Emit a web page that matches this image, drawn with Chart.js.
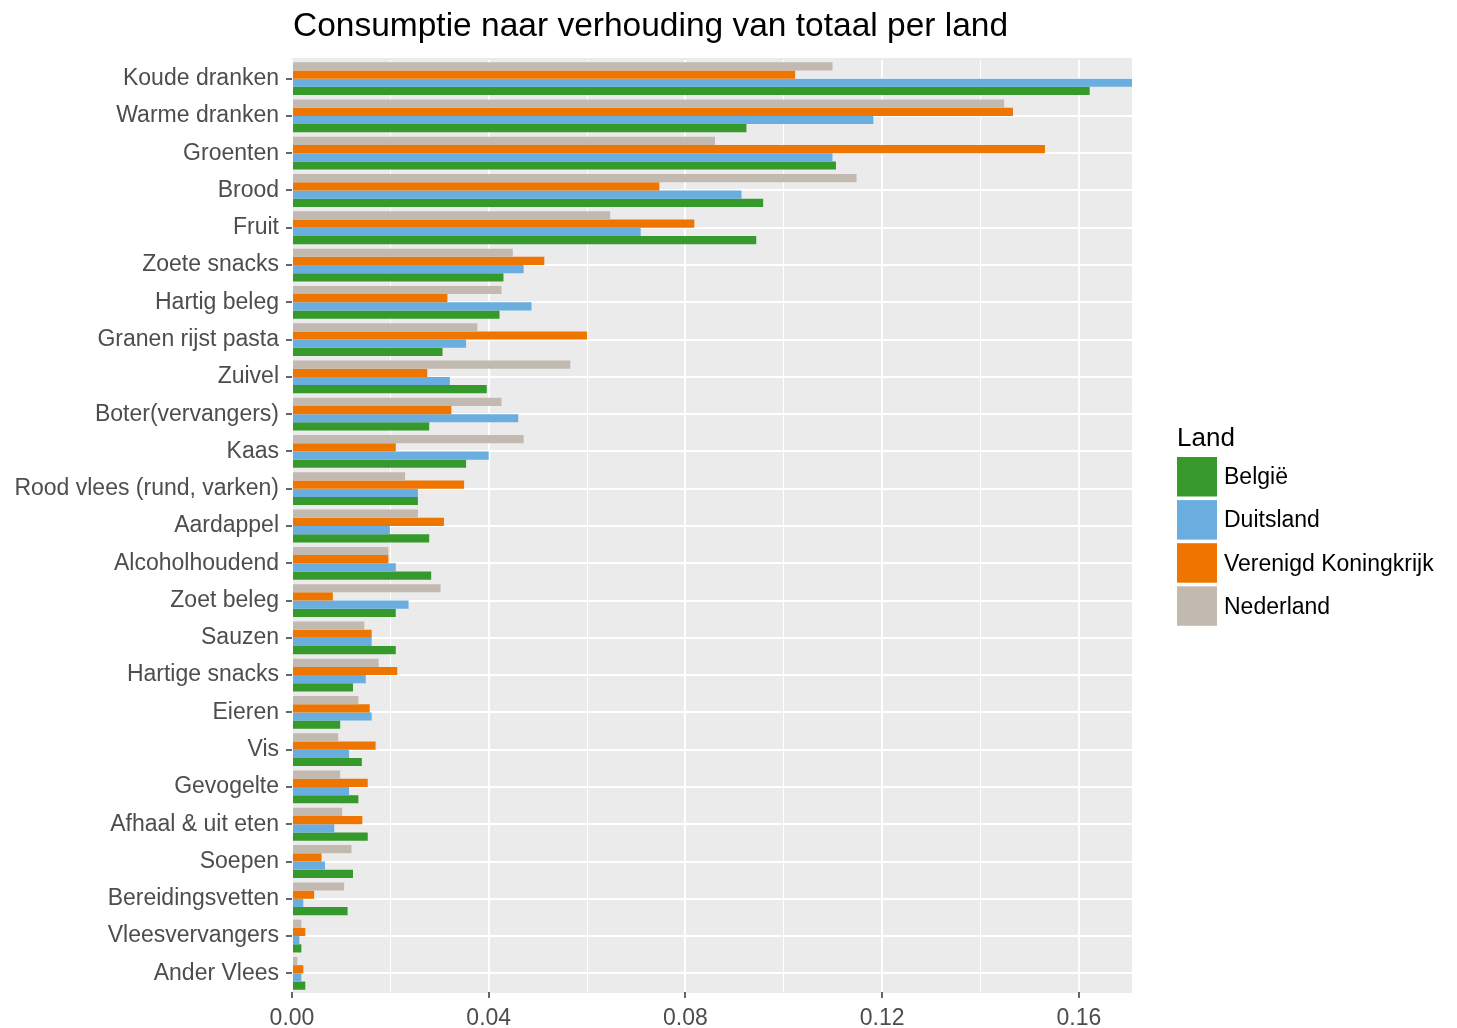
<!DOCTYPE html>
<html>
<head>
<meta charset="utf-8">
<script src="https://cdn.jsdelivr.net/npm/chart.js@4.4.0/dist/chart.umd.min.js"></script>
<style>
  html, body { margin: 0; padding: 0; background: #ffffff; }
  canvas { display: block; }
</style>
</head>
<body>
<canvas id="chart" width="1457" height="1028"></canvas>
<script>
// categories, top to bottom
const categories = [
    'Koude dranken', 'Warme dranken', 'Groenten', 'Brood', 'Fruit',
    'Zoete snacks', 'Hartig beleg', 'Granen rijst pasta', 'Zuivel', 'Boter(vervangers)',
    'Kaas', 'Rood vlees (rund, varken)', 'Aardappel', 'Alcoholhoudend', 'Zoet beleg',
    'Sauzen', 'Hartige snacks', 'Eieren', 'Vis', 'Gevogelte',
    'Afhaal & uit eten', 'Soepen', 'Bereidingsvetten', 'Vleesvervangers', 'Ander Vlees'
];

const nederland = [0.1099, 0.1448, 0.0860, 0.1148, 0.0647, 0.0449, 0.0426, 0.0377, 0.0566, 0.0426,
    0.0471, 0.0230, 0.0256, 0.0196, 0.0302, 0.0147, 0.0176, 0.0135, 0.0094, 0.0098,
    0.0102, 0.0121, 0.0106, 0.0019, 0.0011];
const verenigdKoninkrijk = [0.1023, 0.1466, 0.1531, 0.0747, 0.0818, 0.0513, 0.0316, 0.0600, 0.0275, 0.0324,
    0.0211, 0.0350, 0.0309, 0.0196, 0.0083, 0.0162, 0.0214, 0.0158, 0.0170, 0.0154,
    0.0143, 0.0060, 0.0045, 0.0027, 0.0023];
const duitsland = [0.1708, 0.1182, 0.1099, 0.0914, 0.0709, 0.0471, 0.0487, 0.0354, 0.0321, 0.0460,
    0.0400, 0.0256, 0.0199, 0.0211, 0.0237, 0.0162, 0.0150, 0.0162, 0.0116, 0.0116,
    0.0086, 0.0067, 0.0023, 0.0015, 0.0019];
const belgie = [0.1622, 0.0924, 0.1106, 0.0958, 0.0944, 0.0430, 0.0422, 0.0306, 0.0396, 0.0279,
    0.0354, 0.0256, 0.0279, 0.0283, 0.0211, 0.0211, 0.0124, 0.0098, 0.0142, 0.0135,
    0.0154, 0.0124, 0.0113, 0.0019, 0.0027];

const xMax = 0.1708;
const xStep = 0.02;   // minor grid step, labels every second one

const colors = {
    belgie: '#359A2B',
    duitsland: '#69AEDF',
    vk: '#EE7600',
    nederland: '#C2BAB1'
};

const fontFamily = "'Liberation Sans', Arial, sans-serif";
const axisText = '#4d4d4d';

// legend entries in ggplot order
const legendItems = [
    { label: 'België', color: colors.belgie },
    { label: 'Duitsland', color: colors.duitsland },
    { label: 'Verenigd Koningkrijk', color: colors.vk },
    { label: 'Nederland', color: colors.nederland }
];

function isMajor(value) {
    return Math.round(value / xStep) % 2 === 0;
}

/* ─── Panel background + title + legend ─────── */
const ggPanel = {
    id: 'ggPanel',
    beforeDraw(chart) {
        const { ctx, chartArea } = chart;
        ctx.save();
        ctx.fillStyle = '#ffffff';
        ctx.fillRect(0, 0, chart.width, chart.height);
        ctx.fillStyle = '#EBEBEB';
        ctx.fillRect(chartArea.left, chartArea.top - 2, chartArea.right - chartArea.left, chartArea.bottom - chartArea.top + 3);
        ctx.restore();
    },
    afterDraw(chart) {
        const { ctx, chartArea } = chart;
        ctx.save();
        // title
        ctx.fillStyle = '#000000';
        ctx.font = '33.5px ' + fontFamily;
        ctx.textAlign = 'left';
        ctx.textBaseline = 'alphabetic';
        ctx.fillText('Consumptie naar verhouding van totaal per land', chartArea.left + 1, 36);

        // legend
        const lx = chartArea.right + 45;
        ctx.font = '26px ' + fontFamily;
        ctx.fillText('Land', lx, 446);
        ctx.font = '23px ' + fontFamily;
        ctx.textBaseline = 'middle';
        legendItems.forEach((item, i) => {
            const top = 457 + i * 43.1;
            ctx.fillStyle = item.color;
            ctx.fillRect(lx, top, 40, 39.5);
            ctx.fillStyle = '#000000';
            ctx.fillText(item.label, lx + 47, top + 21);
        });
        ctx.restore();
    }
};

const ctx = document.getElementById('chart');
new Chart(ctx.getContext('2d'), {
    type: 'bar',
    data: {
        labels: categories,
        datasets: [
            { label: 'Nederland', data: nederland, backgroundColor: colors.nederland },
            { label: 'Verenigd Koningkrijk', data: verenigdKoninkrijk, backgroundColor: colors.vk },
            { label: 'Duitsland', data: duitsland, backgroundColor: colors.duitsland },
            { label: 'België', data: belgie, backgroundColor: colors.belgie }
        ]
    },
    options: {
        indexAxis: 'y',
        responsive: false,
        devicePixelRatio: 1,
        animation: false,
        layout: { padding: { top: 60, right: 325, left: 0, bottom: 0 } },
        datasets: {
            bar: { categoryPercentage: 0.88, barPercentage: 1.0, borderWidth: 0 }
        },
        plugins: {
            legend: { display: false },
            title: { display: false },
            tooltip: { enabled: false }
        },
        scales: {
            x: {
                type: 'linear',
                position: 'bottom',
                min: 0,
                max: xMax,
                border: { display: false },
                grid: {
                    color: '#ffffff',
                    lineWidth: c => isMajor(c.tick.value) ? 2 : 1,
                    drawTicks: true,
                    tickLength: 6,
                    tickWidth: 1.5,
                    tickColor: c => isMajor(c.tick.value) ? '#333333' : 'rgba(0,0,0,0)'
                },
                ticks: {
                    stepSize: xStep,
                    includeBounds: false,
                    autoSkip: false,
                    maxRotation: 0,
                    padding: 9,
                    color: axisText,
                    font: { family: fontFamily, size: 23, lineHeight: 1 },
                    callback: v => isMajor(v) ? v.toFixed(2) : ''
                },
                afterFit: s => { s.height = 36; }
            },
            y: {
                offset: true,
                border: { display: false },
                grid: {
                    offset: false,
                    color: '#ffffff',
                    lineWidth: 2,
                    drawTicks: true,
                    tickLength: 6,
                    tickWidth: 1.5,
                    tickColor: '#333333'
                },
                ticks: {
                    autoSkip: false,
                    padding: 7,
                    color: axisText,
                    font: { family: fontFamily, size: 23, lineHeight: 1 }
                },
                afterFit: s => { s.width = 292; }
            }
        }
    },
    plugins: [ggPanel]
});
</script>
</body>
</html>
